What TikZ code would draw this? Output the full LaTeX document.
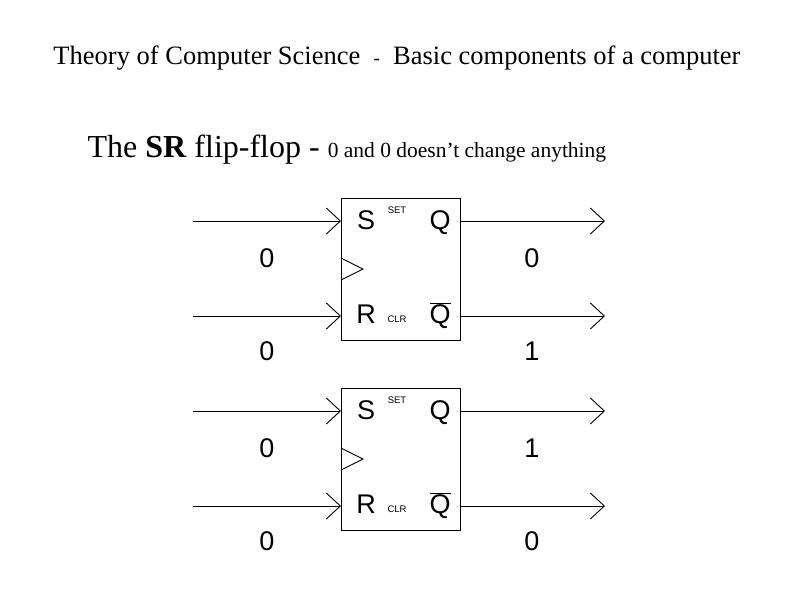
\documentclass[tikz,border=0pt]{standalone}
\usepackage{fontspec}
\setmainfont{Liberation Serif}
\newfontfamily\arial{Liberation Sans}
\usetikzlibrary{arrows.meta}
\begin{document}
\begin{tikzpicture}[x=1pt,y=-1pt,
  wire/.style={line width=0.9pt,-{Straight Barb[length=14pt,width=26pt,line width=0.9pt]}},
  ffbox/.style={draw,line width=0.9pt,minimum width=119pt,minimum height=142pt,inner sep=0pt},
  big/.style={font=\arial\fontsize{27}{27}\selectfont},
  small/.style={font=\arial\fontsize{9.5}{9.5}\selectfont},
  lett/.style={big,anchor=base,inner sep=0pt}]
\useasboundingbox (0,0) rectangle (800,600);
\node (title) at (397,58) {\fontsize{26.5}{26.5}\selectfont Theory of Computer Science \ {\fontsize{19}{19}\selectfont -}\ \ Basic components of a computer};
\node[anchor=west] (sub) at (84,150) {\fontsize{32}{32}\selectfont The \textbf{SR} flip-flop - {\fontsize{21.5}{21.5}\selectfont 0 and 0 doesn’t change anything}};
\foreach \n/\y/\a/\b/\q/\qb in {1/198/0/0/0/1, 2/388/0/0/1/0}{
  \node[ffbox,anchor=north west] (ff\n) at (341,\y) {};
  \coordinate (si\n) at (193,\y+23);
  \coordinate (ri\n) at (193,\y+118);
  \coordinate (s\n) at (341,\y+23);
  \coordinate (r\n) at (341,\y+118);
  \coordinate (q\n) at (460,\y+23);
  \coordinate (qb\n) at (460,\y+118);
  \coordinate (qo\n) at (605,\y+23);
  \coordinate (qbo\n) at (605,\y+118);
  \draw[wire] (si\n) -- (s\n);
  \draw[wire] (ri\n) -- (r\n);
  \draw[wire] (q\n) -- (qo\n);
  \draw[wire] (qb\n) -- (qbo\n);
  \draw[line width=0.9pt] (341,\y+60) -- (363,\y+71) -- (341,\y+82);
  \node[lett] (S\n) at (366,\y+31) {S};
  \node[small] (set\n) at (397,\y+12) {SET};
  \node[lett] (Q\n) at (440,\y+31) {Q};
  \node[lett] (R\n) at (366,\y+125) {R};
  \node[small] (clr\n) at (397,\y+121) {CLR};
  \node[lett] (QB\n) at (440,\y+125) {$\overline{\mbox{Q}}$};
  \node[big] (la\n) at (267,\y+60) {\a};
  \node[big] (lb\n) at (267,\y+153) {\b};
  \node[big] (lq\n) at (532,\y+60) {\q};
  \node[big] (lqb\n) at (532,\y+153) {\qb};
}
\end{tikzpicture}
\end{document}
